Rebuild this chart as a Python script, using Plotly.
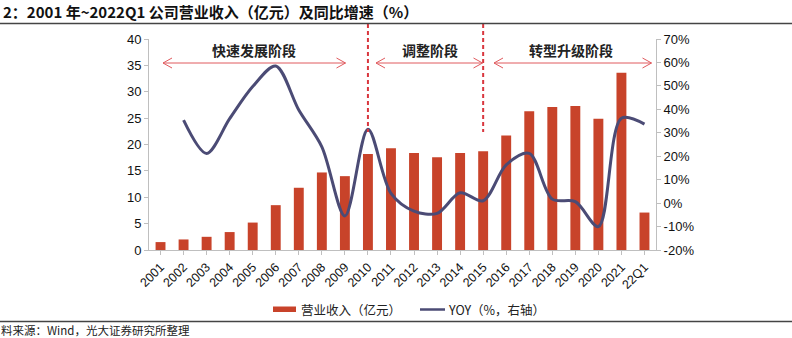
import plotly.graph_objects as go

years = ["2001","2002","2003","2004","2005","2006","2007","2008","2009","2010","2011",
         "2012","2013","2014","2015","2016","2017","2018","2019","2020","2021","22Q1"]
revenue = [1.5, 2.0, 2.5, 3.4, 5.2, 8.5, 11.8, 14.7, 14.0, 18.2, 19.3,
           18.4, 17.6, 18.4, 18.7, 21.7, 26.3, 27.1, 27.3, 24.9, 33.6, 7.1]
yoy_years = years[1:]
yoy = [35.4, 21.2, 36.0, 49.7, 58.5, 39.7, 24.0, -5.5, 31.5, 4.2,
       -3.4, -4.4, 4.4, 1.0, 16.3, 21.2, 1.7, 0.6, -10.0, 36.2, 33.7]
left_ticks = [0, 5, 10, 15, 20, 25, 30, 35, 40]
right_ticks = [-20, -10, 0, 10, 20, 30, 40, 50, 60, 70]
phases = ["快速发展阶段", "调整阶段", "转型升级阶段"]
phase_bounds = ["2010", "2015"]
series_names = ["营业收入（亿元）", "YOY（%，右轴）"]

W, H = 792, 338
L, R, T, B = 149, 656, 39, 250
def px(x): return (x - L) / (R - L)
def py(y): return (B - y) / (B - T)

BAR = "#c8432a"
LINE = "#4b4b75"
ARROW = "#e05a5e"
FONT = "Liberation Sans, Arial, Noto Sans CJK SC, sans-serif"
CJK = "Noto Sans CJK SC, sans-serif"

fig = go.Figure()
fig.add_trace(go.Bar(x=years, y=revenue, name=series_names[0],
                     marker=dict(color=BAR, line=dict(width=0)), yaxis="y"))
fig.add_trace(go.Scatter(x=yoy_years, y=yoy, name=series_names[1], mode="lines",
                         line=dict(color=LINE, width=3, shape="spline", smoothing=0.9),
                         yaxis="y2"))

shapes = []
# dashed phase separators
for b in phase_bounds:
    i = years.index(b)
    shapes.append(dict(type="line", xref="x", yref="paper", x0=i, x1=i,
                       y0=py(24), y1=py(132), layer="above",
                       line=dict(color="#d9363e", width=2, dash="4px,3px")))
# arrows
arrows = [(163, 345.5), (376, 482.5), (494, 651.5)]
ay = 63
for (a0, a1) in arrows:
    shapes.append(dict(type="line", xref="paper", yref="paper",
                       x0=px(a0), x1=px(a1), y0=py(ay), y1=py(ay),
                       line=dict(color=ARROW, width=1)))
    for tip, d in ((a0, 1), (a1, -1)):
        path = (f"M {px(tip + d*9)},{py(ay-5)} L {px(tip)},{py(ay)} "
                f"L {px(tip + d*9)},{py(ay+5)}")
        shapes.append(dict(type="path", xref="paper", yref="paper", path=path,
                           line=dict(color=ARROW, width=1)))
# horizontal rules
shapes.append(dict(type="line", xref="paper", yref="paper", x0=px(0), x1=px(792),
                   y0=py(23.5), y1=py(23.5), line=dict(color="#444", width=1.5)))
shapes.append(dict(type="line", xref="paper", yref="paper", x0=px(0), x1=px(792),
                   y0=py(321.5), y1=py(321.5), line=dict(color="#444", width=1.5)))
# legend symbols
shapes.append(dict(type="rect", xref="paper", yref="paper", x0=px(273), x1=px(296),
                   y0=py(306.5), y1=py(312), fillcolor=BAR, line=dict(width=0)))
shapes.append(dict(type="line", xref="paper", yref="paper", x0=px(420), x1=px(445),
                   y0=py(309.5), y1=py(309.5), line=dict(color=LINE, width=2.5)))

annotations = [
    dict(text="<b>2：2001 年~2022Q1 公司营业收入（亿元）及同比增速（%）</b>",
         xref="paper", yref="paper", x=px(1), y=py(12), xanchor="left", yanchor="middle",
         showarrow=False, font=dict(family=CJK, size=15, color="#111")),
    dict(text="料来源：Wind，光大证券研究所整理", xref="paper", yref="paper",
         x=px(-1), y=py(330), xanchor="left", yanchor="middle", showarrow=False,
         font=dict(family=CJK, size=11.5, color="#222")),
    dict(text=series_names[0], xref="paper", yref="paper", x=px(299), y=py(309.5),
         xanchor="left", yanchor="middle", showarrow=False,
         font=dict(family=CJK, size=12.5, color="#222")),
    dict(text=series_names[1], xref="paper", yref="paper", x=px(446), y=py(309.5),
         xanchor="left", yanchor="middle", showarrow=False,
         font=dict(family=CJK, size=12.5, color="#222")),
]
phase_x = [254, 430, 571]
for name, cx in zip(phases, phase_x):
    annotations.append(dict(text=f"<b>{name}</b>", xref="paper", yref="paper",
                            x=px(cx), y=py(50), xanchor="center", yanchor="middle",
                            showarrow=False, font=dict(family=CJK, size=14, color="#222")))

axis_common = dict(showgrid=False, zeroline=False, showline=True, linecolor="#bfbfbf",
                   linewidth=1, ticks="outside", ticklen=4, tickcolor="#bfbfbf",
                   tickfont=dict(family=FONT, size=13, color="#111"))

fig.update_layout(
    width=W, height=H, margin=dict(l=L, r=W - R, t=T, b=H - B),
    paper_bgcolor="white", plot_bgcolor="white",
    bargap=0.57, showlegend=False,
    xaxis=dict(type="category", showgrid=False, showline=True, linecolor="#bfbfbf",
               ticks="outside", ticklen=4, tickcolor="#bfbfbf", tickangle=-45,
               tickfont=dict(family=FONT, size=12.5, color="#111"), range=[-0.5, 21.5]),
    yaxis=dict(range=[0, 40], tickvals=left_ticks, **axis_common),
    yaxis2=dict(range=[-20, 70], tickvals=right_ticks,
                ticktext=[f"{v}%" for v in right_ticks], overlaying="y", side="right",
                **axis_common),
    shapes=shapes, annotations=annotations,
)

fig.write_html("out.html")
